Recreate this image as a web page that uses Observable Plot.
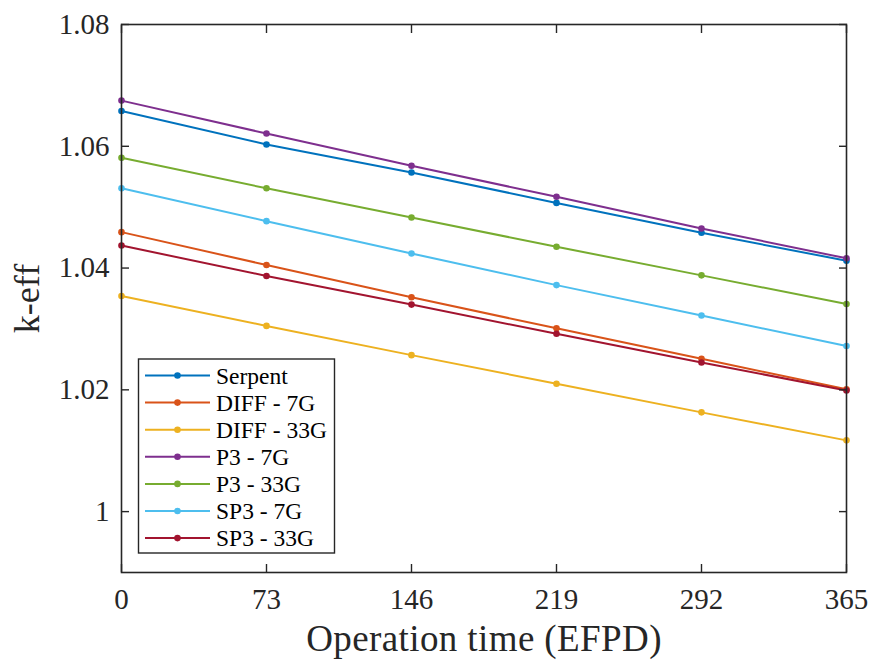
<!DOCTYPE html>
<html>
<head>
<meta charset="utf-8">
<script src="https://cdn.jsdelivr.net/npm/d3@7"></script>
<script src="https://cdn.jsdelivr.net/npm/@observablehq/plot@0.6"></script>
<style>
  html, body { margin: 0; padding: 0; background: #fff; }
  #chart { position: relative; width: 872px; height: 661px; }
</style>
</head>
<body>
<div id="chart"></div>
<script>
const time = [0, 73, 146, 219, 292, 365];
const seriesNames = ["Serpent", "DIFF - 7G", "DIFF - 33G", "P3 - 7G", "P3 - 33G", "SP3 - 7G", "SP3 - 33G"];
const seriesColors = ["#0072BD", "#D95319", "#EDB120", "#7E2F8E", "#77AC30", "#4DBEEE", "#A2142F"];
const serpent  = [1.0658, 1.0603, 1.0557, 1.0507, 1.0458, 1.0412];
const diff7G   = [1.0459, 1.0405, 1.0352, 1.0301, 1.0251, 1.0201];
const diff33G  = [1.0354, 1.0305, 1.0257, 1.0210, 1.0163, 1.0117];
const p3_7G    = [1.0675, 1.0621, 1.0568, 1.0517, 1.0465, 1.0416];
const p3_33G   = [1.0581, 1.0531, 1.0483, 1.0435, 1.0388, 1.0341];
const sp3_7G   = [1.0531, 1.0477, 1.0424, 1.0372, 1.0322, 1.0272];
const sp3_33G  = [1.0437, 1.0387, 1.0340, 1.0292, 1.0245, 1.0199];
const xTicks = [0, 73, 146, 219, 292, 365];
const yTicks = [1, 1.02, 1.04, 1.06, 1.08];
const yTickLabels = ["1", "1.02", "1.04", "1.06", "1.08"];

const allSeries = [serpent, diff7G, diff33G, p3_7G, p3_33G, sp3_7G, sp3_33G];
const data = [];
allSeries.forEach((vals, i) => vals.forEach((k, j) => data.push({series: seriesNames[i], t: time[j], k})));

const axisColor = "#262626";
const font = "Liberation Serif";

const chart = Plot.plot({
  width: 872,
  height: 661,
  marginLeft: 121,
  marginRight: 26,
  marginTop: 24,
  marginBottom: 89,
  style: {fontFamily: font, color: axisColor, background: "#fff"},
  x: {domain: [0, 365]},
  y: {domain: [0.99, 1.08]},
  color: {domain: seriesNames, range: seriesColors},
  marks: [
    Plot.line(data, {x: "t", y: "k", z: "series", stroke: "series", strokeWidth: 2}),
    Plot.dot(data, {x: "t", y: "k", fill: "series", r: 3.3}),
    Plot.frame({stroke: axisColor, strokeWidth: 1.6}),
    Plot.axisX({anchor: "bottom", ticks: xTicks, tickSize: -8, tickPadding: 24, fontSize: 29, stroke: axisColor, strokeWidth: 1.4,
      label: "Operation time (EFPD)", labelAnchor: "center", labelArrow: "none", labelOffset: 78}),
    Plot.axisX({anchor: "top", ticks: xTicks, tickSize: -8, tickFormat: () => "", stroke: axisColor, strokeWidth: 1.4, label: null}),
    Plot.axisY({anchor: "left", ticks: yTicks, tickSize: -8, tickPadding: 20, fontSize: 29,
      tickFormat: d => yTickLabels[yTicks.indexOf(d)], stroke: axisColor, strokeWidth: 1.4,
      label: "k-eff", labelAnchor: "center", labelArrow: "none", labelOffset: 108}),
    Plot.axisY({anchor: "right", ticks: yTicks, tickSize: -8, tickFormat: () => "", stroke: axisColor, strokeWidth: 1.4, label: null})
  ]
});
document.getElementById("chart").appendChild(chart);

// label font sizes
const svg = d3.select(chart);
svg.selectAll("[aria-label='x-axis label'] text")
  .style("font-size", "37px").style("letter-spacing", "0.4px");
svg.selectAll("[aria-label='y-axis label'] text")
  .style("font-size", "36px");

// legend (MATLAB-style box)
const lg = svg.append("g").attr("class", "legend");
const lx = 138.5, ly = 359, lw = 196, lh = 194, rowH = 27.1, row0 = 375.5;
lg.append("rect").attr("x", lx).attr("y", ly).attr("width", lw).attr("height", lh)
  .attr("fill", "#fff").attr("stroke", axisColor).attr("stroke-width", 1.4);
seriesNames.forEach((name, i) => {
  const y = row0 + i * rowH;
  lg.append("line").attr("x1", 145).attr("x2", 210).attr("y1", y).attr("y2", y)
    .attr("stroke", seriesColors[i]).attr("stroke-width", 2);
  lg.append("circle").attr("cx", 177.5).attr("cy", y).attr("r", 3.3).attr("fill", seriesColors[i]);
  lg.append("text").attr("x", 216).attr("y", y).attr("dy", "0.35em")
    .style("font-family", font).style("font-size", "23.5px").style("text-anchor", "start")
    .style("fill", "#000").text(name);
});
</script>
</body>
</html>
